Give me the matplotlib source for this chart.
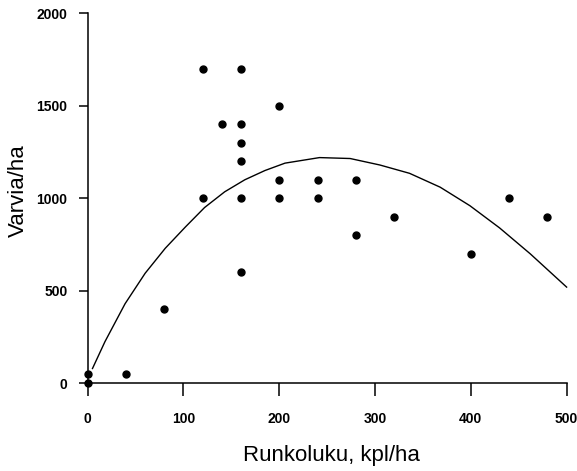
import numpy as np
import matplotlib
matplotlib.use('Agg')
import matplotlib.pyplot as plt

# stem density (trees/ha) vs. sapling count (saplings/ha)
stems = [0, 0, 40, 80, 120, 120, 140, 160, 160, 160, 160, 160, 160,
         200, 200, 200, 240, 240, 280, 280, 320, 400, 440, 480]
saplings = [50, 0, 50, 400, 1000, 1700, 1400, 1700, 1400, 1300, 1200, 1000, 600,
            1500, 1100, 1000, 1100, 1000, 1100, 800, 900, 700, 1000, 900]

# fitted curve
fit_x = [5, 18, 39, 60, 81, 102, 122, 143, 164, 185, 206, 242,
         274, 305, 336, 368, 399, 430, 462, 500]
fit_y = [80, 225, 430, 595, 730, 845, 950, 1035, 1100, 1150, 1190, 1220,
         1215, 1180, 1135, 1060, 960, 840, 700, 520]

xticks = [0, 100, 200, 300, 400, 500]
yticks = [0, 500, 1000, 1500, 2000]

plt.rcParams['font.family'] = ['Liberation Sans', 'DejaVu Sans']

fig = plt.figure(figsize=(5.77, 4.71), dpi=100)
ax = fig.add_axes([0.152, 0.1862, 0.830, 0.7856])

ax.plot(fit_x, fit_y, color='black', lw=1.0, clip_on=False)
ax.plot(stems, saplings, 'o', color='black', ms=5, clip_on=False, zorder=3)

ax.set_xlim(0, 500)
ax.set_ylim(0, 2000)
ax.spines['top'].set_visible(False)
ax.spines['right'].set_visible(False)
ax.spines['left'].set_linewidth(1.1)
ax.spines['bottom'].set_linewidth(1.1)

ax.set_xticks(xticks)
ax.set_xticklabels([str(t) for t in xticks], fontsize=10, fontweight='bold')
ax.set_yticks(yticks)
ax.set_yticklabels([str(t) for t in yticks], fontsize=10, fontweight='bold')
ax.tick_params(axis='x', direction='out', length=9, width=1.1, pad=12)
ax.tick_params(axis='y', direction='out', length=6.5, width=1.1, pad=8)

ax.set_xlabel('Runkoluku, kpl/ha', fontsize=16)
ax.set_ylabel('Varvia/ha', fontsize=16)
ax.xaxis.set_label_coords(0.508, -0.168)
ax.yaxis.set_label_coords(-0.122, 0.52)

fig.savefig('out.png', dpi=100)
